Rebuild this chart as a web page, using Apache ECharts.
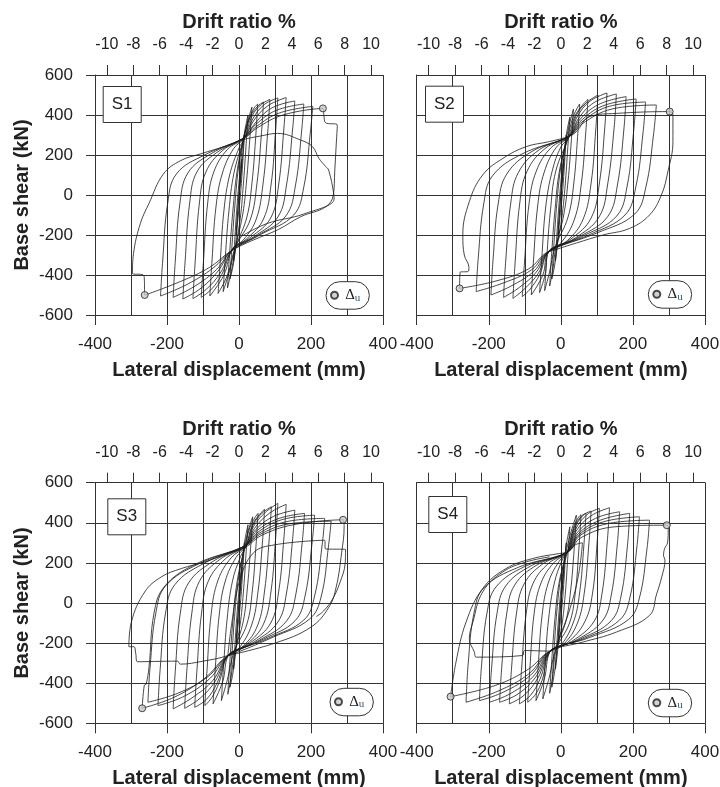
<!DOCTYPE html>
<html><head><meta charset="utf-8">
<script src="https://cdn.jsdelivr.net/npm/echarts@6/dist/echarts.min.js"></script>
<style>html,body{margin:0;padding:0;background:#fff}#c{width:720px;height:787px}</style>
</head><body><div id="c"></div>
<script>
// ---------- data ----------
const panelNames = ['S1', 'S2', 'S3', 'S4'];
const driftTicks = [-10, -8, -6, -4, -2, 0, 2, 4, 6, 8, 10];
const xAxisName = 'Lateral displacement (mm)';
const yAxisName = 'Base shear (kN)';
const topAxisName = 'Drift ratio %';
const legendName = 'Δu';

// lateral displacement (mm), base shear (kN) — hysteresis paths
const S1 = [
[0,0],[5,90],[8,180],[4,90],[0,0],[-4,-100],[-8,-200],[-4,-90],[0,0],[6,120],
[11,220],[15,300],[10,150],[4,0],[-3,-120],[-9,-240],[-15,-330],[-10,-170],[-4,-20],[3,120],[8,220],
[16,320],[25,400],[19,230],[12,50],[4,-110],[-8,-250],[-16,-350],[-25,-420],[-19,-240],[-11,-40],[-2,130],[8,240],
[20,340],[36,440],[30,280],[21,70],[11,-90],[-8,-250],[-20,-370],[-32,-465],[-26,-290],[-17,-80],[-6,110],[10,260],
[28,380],[42,435],[52,455],[46,280],[36,60],[22,-110],[-8,-255],[-28,-390],[-44,-483],[-38,-310],[-28,-80],[-14,110],[12,275],
[30,385],[50,440],[68,465],[62,300],[50,60],[32,-120],[-10,-262],[-32,-400],[-58,-492],[-52,-330],[-42,-80],[-26,100],[0,235],[15,282],
[35,390],[60,450],[86,478],[80,320],[67,60],[48,-120],[12,-225],[-18,-268],[-42,-400],[-81,-505],[-75,-330],[-64,-60],[-46,110],[-15,232],[15,285],
[38,380],[70,452],[108,485],[102,330],[89,50],[68,-120],[22,-218],[-18,-270],[-48,-398],[-76,-470],[-105,-512],[-99,-340],[-87,-40],[-70,115],[-32,228],[15,286],
[40,370],[80,446],[131,487],[125,340],[110,50],[88,-115],[32,-212],[-18,-272],[-52,-390],[-90,-470],[-128,-518],[-122,-340],[-110,-40],[-92,115],[-46,222],[15,288],
[45,360],[92,436],[155,470],[149,330],[132,50],[108,-110],[42,-208],[-20,-275],[-58,-380],[-105,-465],[-156,-520],[-150,-340],[-137,-40],[-117,115],[-62,212],[15,288],
[45,350],[102,422],[180,455],[174,320],[157,50],[130,-105],[52,-202],[-20,-276],[-62,-372],[-122,-455],[-183,-512],[-177,-330],[-164,-40],[-142,110],[-78,206],[15,287],
[48,342],[112,410],[205,443],[198,310],[180,40],[152,-100],[62,-196],[-20,-278],[-72,-365],[-142,-445],[-218,-505],[-212,-330],[-198,-40],[-174,105],[-96,200],[15,285],
[50,335],[122,400],[233,433],[236,395],[240,362],[273,350],[270,250],[266,120],[262,0],[240,-60],[172,-108],[110,-172],[40,-225],[-22,-280],[-82,-362],[-162,-432],[-262,-500],
[-263,-420],[-266,-400],[-296,-392],[-293,-292],[-274,-142],[-250,-42],[-210,105],[-162,172],[-106,206],[-40,243],[10,276],[60,295],[107,308],[171,275],[204,242],[222,183],[241,142],[249,125],[263,8],[264,-20],[180,-95],[79,-142],[5,-208]
];
const S2 = [
[0,0],[5,90],[8,180],[4,90],[0,0],[-4,-100],[-8,-200],[-4,-90],[0,0],[6,120],
[11,220],[15,300],[10,150],[4,0],[-3,-120],[-9,-240],[-15,-330],[-10,-170],[-4,-20],[3,120],[10,230],
[17,320],[25,390],[19,230],[12,50],[3,-110],[-10,-250],[-17,-350],[-25,-420],[-19,-240],[-11,-40],[-1,130],[12,250],
[22,340],[35,430],[29,270],[20,70],[8,-100],[-14,-260],[-22,-370],[-31,-455],[-25,-280],[-16,-70],[-4,120],[18,280],
[32,380],[44,430],[52,455],[46,280],[36,60],[20,-110],[-16,-262],[-32,-390],[-45,-478],[-39,-310],[-29,-80],[-14,120],[22,290],
[38,390],[58,445],[75,478],[69,310],[57,60],[38,-120],[0,-240],[-34,-283],[-44,-400],[-59,-488],[-53,-320],[-42,-60],[-24,120],[0,240],[25,295],
[42,395],[70,460],[103,500],[97,330],[84,60],[62,-120],[18,-228],[-34,-284],[-50,-400],[-82,-500],[-76,-330],[-64,-50],[-46,115],[-12,240],[25,296],
[45,390],[80,468],[128,510],[122,340],[107,60],[84,-115],[28,-220],[-35,-285],[-58,-395],[-85,-470],[-107,-508],[-101,-340],[-88,-40],[-68,120],[-28,235],[25,297],
[48,380],[92,462],[154,505],[148,340],[130,55],[106,-110],[40,-215],[-35,-286],[-62,-390],[-100,-468],[-133,-517],[-127,-340],[-114,-40],[-94,118],[-44,232],[25,298],
[50,372],[104,452],[181,492],[175,330],[157,50],[130,-108],[52,-208],[-35,-286],[-68,-385],[-115,-462],[-159,-512],[-153,-330],[-139,-40],[-118,112],[-60,226],[25,297],
[52,365],[116,445],[209,480],[202,320],[184,45],[155,-105],[64,-203],[-35,-285],[-74,-380],[-138,-455],[-194,-500],[-188,-320],[-174,-45],[-150,105],[-80,218],[25,296],
[55,360],[128,440],[235,465],[228,310],[208,40],[178,-100],[80,-198],[-35,-284],[-82,-375],[-160,-440],[-235,-483],[-229,-310],[-214,-45],[-190,95],[-108,205],[25,295],
[58,355],[142,430],[265,450],[257,300],[236,40],[205,-95],[100,-190],[-35,-283],[-90,-370],[-180,-430],[-281,-467],[-279,-385],[-258,-383],[-255,-362],[-268,-300],[-272,-200],[-254,-33],[-217,100],[-161,183],[-96,242],[-32,267],[25,295],
[43,317],[80,392],[154,408],[302,417],[311,400],[311,267],[297,117],[279,0],[246,-100],[191,-167],[117,-200],[43,-240],[-35,-285]
];
const S3 = [
[0,0],[5,90],[8,180],[4,90],[0,0],[-4,-100],[-8,-200],[-4,-90],[0,0],[6,120],
[11,220],[15,300],[10,150],[4,0],[-3,-120],[-9,-240],[-15,-330],[-10,-170],[-4,-20],[3,120],[10,230],
[17,320],[25,390],[19,230],[12,50],[3,-110],[-10,-240],[-17,-350],[-25,-420],[-19,-240],[-11,-40],[-1,130],[12,250],
[24,350],[38,430],[32,270],[23,70],[12,-90],[-12,-245],[-22,-370],[-31,-455],[-25,-280],[-16,-70],[-4,120],[16,275],
[30,375],[44,425],[53,447],[47,280],[37,60],[22,-105],[-14,-245],[-32,-380],[-49,-487],[-43,-320],[-33,-80],[-18,110],[4,230],[20,285],
[36,385],[56,440],[71,467],[65,300],[53,60],[35,-110],[-2,-230],[-30,-262],[-45,-390],[-72,-503],[-66,-330],[-55,-60],[-38,110],[-8,228],[20,287],
[38,385],[64,448],[90,480],[84,320],[71,60],[52,-110],[12,-215],[-31,-262],[-55,-395],[-75,-470],[-95,-512],[-89,-340],[-77,-50],[-58,115],[-22,225],[20,288],
[40,380],[72,450],[108,497],[102,330],[89,60],[68,-105],[22,-205],[-31,-263],[-60,-395],[-90,-480],[-123,-520],[-117,-340],[-104,-50],[-85,110],[-38,220],[20,289],
[43,372],[84,447],[131,492],[125,330],[110,55],[88,-100],[32,-198],[-31,-264],[-66,-390],[-108,-475],[-151,-525],[-145,-340],[-131,-50],[-110,108],[-55,215],[20,290],
[46,365],[96,432],[155,463],[149,320],[132,50],[108,-95],[44,-192],[-31,-265],[-72,-385],[-128,-470],[-183,-528],[-177,-340],[-163,-50],[-140,100],[-72,208],[20,290],
[48,358],[108,420],[182,447],[176,310],[158,45],[132,-90],[56,-186],[-31,-265],[-80,-375],[-152,-465],[-225,-512],[-219,-330],[-204,-50],[-178,92],[-95,200],[20,289],
[50,350],[118,415],[210,438],[203,300],[184,40],[156,-88],[68,-180],[-31,-264],[-88,-370],[-170,-450],[-253,-495],[-247,-320],[-231,-50],[-204,85],[-112,195],[20,288],
[53,345],[130,405],[238,422],[231,290],[210,35],[180,-85],[82,-175],[-31,-263],[-95,-375],[-180,-470],[-269,-525],[-263,-410],[-258,-405],[-250,-320],[-236,-50],[-208,80],[-125,190],[20,287],
[56,340],[140,395],[256,408],[249,290],[228,30],[196,-80],[95,-170],[-31,-262],[-100,-290],[-163,-305],[-171,-290],[-282,-293],[-287,-250],[-292,-218],[-306,-218],[-299,-95],[-262,55],[-216,130],[-160,172],[-95,205],[-31,247],[20,280],
[60,335],[150,390],[289,415],[292,380],[285,250],[270,80],[250,-20],[200,-120],[100,-200],[-31,-262],[-20,-100],[0,100],[40,250],[99,290],[238,313],[240,270],[296,267],[295,200],[280,100],[260,20],[235,-40],[215,-67]
];
const S4 = [
[0,0],[5,90],[8,180],[4,90],[0,0],[-4,-100],[-8,-200],[-4,-90],[0,0],[6,120],
[11,220],[15,300],[10,150],[4,0],[-3,-120],[-9,-240],[-15,-330],[-10,-170],[-4,-20],[3,120],[10,220],
[17,310],[25,380],[19,220],[12,40],[3,-110],[-10,-230],[-17,-340],[-25,-420],[-19,-240],[-11,-40],[-1,120],[12,235],
[26,340],[43,438],[37,270],[27,60],[14,-90],[-14,-235],[-22,-360],[-31,-450],[-25,-280],[-16,-70],[-4,110],[18,252],
[34,370],[48,425],[56,440],[50,270],[40,50],[24,-100],[-14,-232],[-32,-370],[-50,-478],[-44,-310],[-34,-80],[-18,100],[4,215],[19,255],
[36,372],[56,432],[70,447],[64,290],[52,50],[34,-100],[-4,-220],[-30,-240],[-46,-380],[-69,-487],[-63,-320],[-52,-60],[-35,100],[-6,205],[19,256],
[38,370],[62,438],[84,458],[78,300],[65,50],[46,-100],[8,-205],[-30,-241],[-52,-385],[-70,-455],[-92,-495],[-86,-330],[-74,-50],[-55,100],[-20,200],[19,257],
[40,365],[72,440],[107,472],[101,310],[88,50],[66,-95],[18,-198],[-30,-242],[-58,-380],[-85,-462],[-115,-503],[-109,-330],[-96,-50],[-77,98],[-34,198],[19,258],
[42,358],[84,435],[135,475],[129,310],[114,45],[92,-92],[30,-192],[-30,-242],[-64,-375],[-102,-460],[-143,-503],[-137,-330],[-123,-50],[-102,95],[-50,195],[19,258],
[45,350],[96,422],[163,455],[157,300],[140,40],[115,-90],[42,-186],[-30,-242],[-70,-370],[-120,-455],[-170,-495],[-164,-320],[-150,-50],[-128,90],[-66,190],[19,257],
[48,345],[108,412],[191,447],[185,290],[167,35],[140,-88],[54,-180],[-30,-241],[-76,-365],[-138,-450],[-198,-495],[-192,-320],[-177,-50],[-153,85],[-82,186],[19,256],
[50,340],[118,405],[218,430],[211,280],[192,30],[163,-85],[66,-176],[-30,-240],[-84,-360],[-160,-445],[-226,-487],[-220,-310],[-205,-50],[-180,80],[-100,182],[19,255],
[52,335],[128,395],[246,413],[239,270],[218,25],[188,-82],[80,-172],[-30,-240],[-90,-355],[-175,-440],[-263,-495],[-257,-300],[-241,-50],[-214,75],[-118,178],[19,254],
[55,325],[150,380],[294,388],[298,370],[296,300],[288,272],[285,235],[289,215],[280,130],[265,40],[246,-62],[154,-145],[61,-195],[-30,-240],[-90,-330],[-180,-410],[-306,-467],
[-291,-295],[-263,-95],[-217,72],[-152,172],[-78,222],[-4,247],[19,255],[40,290],[60,300],[50,150],[30,0],[0,-150],[-30,-240],[-101,-237],[-106,-262],[-235,-270],[-240,-245],[-254,-178],[-244,-95],[-217,55],[-161,155],[-96,205],[-31,230]
];
// ultimate displacement points Δu
const S1_du = [[233,433],[-262,-500]];
const S2_du = [[302,417],[-281,-467]];
const S3_du = [[289,415],[-269,-525]];
const S4_du = [[294,388],[-306,-467]];

const loops = [S1, S2, S3, S4];
const duPoints = [S1_du, S2_du, S3_du, S4_du];

// ---------- layout / style ----------
const FONT = '"Liberation Sans", Arial, sans-serif';
const TXT = '#222';
const GRIDC = '#333';
const grids = [
  {left: 95, top: 75, width: 288, height: 240},
  {left: 416.7, top: 75, width: 288.3, height: 240},
  {left: 95, top: 482.7, width: 288, height: 240.6},
  {left: 416.7, top: 482.7, width: 288.3, height: 240.6}
];
const titleBoxes = [
  {left: 102.7, top: 86}, {left: 425, top: 85.7}, {left: 107.3, top: 498.3}, {left: 428.3, top: 496}
];
const legendBoxes = [
  {left: 326, top: 281.7}, {left: 648.3, top: 280.7}, {left: 330, top: 688.3}, {left: 648.3, top: 689.3}
];

const xAxes = [], yAxes = [], series = [], titles = [], legends = [];
grids.forEach((g, i) => {
  const isLeft = (i % 2 === 0);
  xAxes.push({
    gridIndex: i, type: 'value', position: 'bottom', min: -400, max: 400, interval: 200,
    axisLine: {show: true, onZero: false, lineStyle: {color: GRIDC, width: 1}},
    axisTick: {show: true, inside: false, length: 10, lineStyle: {color: GRIDC, width: 1}},
    axisLabel: {show: true, margin: 21, fontSize: 17, color: TXT, fontFamily: FONT, showMinLabel: true, showMaxLabel: true, hideOverlap: false},
    splitLine: {show: true, lineStyle: {color: GRIDC, width: 1}},
    minorTick: {show: false, splitNumber: 2},
    minorSplitLine: {show: true, lineStyle: {color: GRIDC, width: 1}},
    name: xAxisName, nameLocation: 'middle', nameGap: 45, nameMoveOverlap: false,
    nameTextStyle: {fontSize: 20, fontWeight: 'bold', color: TXT, fontFamily: FONT}
  });
  xAxes.push({
    gridIndex: i, type: 'value', position: 'top', min: -10.9, max: 10.9,
    axisLine: {show: true, onZero: false, lineStyle: {color: GRIDC, width: 1}},
    axisTick: {show: true, inside: false, length: 10, customValues: driftTicks, lineStyle: {color: GRIDC, width: 1}},
    axisLabel: {show: true, customValues: driftTicks, margin: 22, fontSize: 16, color: TXT, fontFamily: FONT},
    splitLine: {show: false},
    name: topAxisName, nameLocation: 'middle', nameGap: 43, nameMoveOverlap: false,
    nameTextStyle: {fontSize: 20, fontWeight: 'bold', color: TXT, fontFamily: FONT}
  });
  yAxes.push({
    gridIndex: i, type: 'value', min: -600, max: 600, interval: 200,
    axisLine: {show: true, onZero: false, lineStyle: {color: GRIDC, width: 1}},
    axisTick: {show: isLeft, inside: false, length: 9, lineStyle: {color: GRIDC, width: 1}},
    axisLabel: {show: isLeft, margin: 22, fontSize: 17, color: TXT, fontFamily: FONT, showMinLabel: true, showMaxLabel: true},
    splitLine: {show: true, lineStyle: {color: GRIDC, width: 1}},
    name: isLeft ? yAxisName : '', nameLocation: 'middle', nameGap: 63, nameRotate: 90, nameMoveOverlap: false,
    nameTextStyle: {fontSize: 20, fontWeight: 'bold', color: TXT, fontFamily: FONT}
  });
  series.push({
    type: 'line', xAxisIndex: 2 * i, yAxisIndex: i, data: loops[i],
    smooth: 0.4, symbol: 'none', silent: true, z: 3,
    lineStyle: {color: '#1a1a1a', width: 0.8}
  });
  series.push({
    type: 'scatter', name: legendName, xAxisIndex: 2 * i, yAxisIndex: i, data: duPoints[i],
    symbol: 'circle', symbolSize: 7, silent: true, z: 5,
    itemStyle: {color: '#c8c8c8', borderColor: '#222', borderWidth: 1}
  });
  titles.push({
    text: panelNames[i], left: titleBoxes[i].left, top: titleBoxes[i].top,
    padding: [10, 9, 10, 9], borderWidth: 1, borderColor: '#333', backgroundColor: '#fff',
    textStyle: {fontSize: 17, fontWeight: 'normal', color: TXT, fontFamily: FONT}
  });
  legends.push({
    left: legendBoxes[i].left, top: legendBoxes[i].top, data: [legendName],
    selectedMode: false, padding: [6, 9, 6, 4], itemWidth: 7, itemHeight: 7,
    borderWidth: 1, borderColor: '#333', borderRadius: 14, backgroundColor: '#fff',
    formatter: () => '{s| }{d|Δ}{u|u}',
    textStyle: {
      color: TXT,
      rich: {
        s: {fontSize: 8, lineHeight: 16},
        d: {fontSize: 15, fontFamily: '"Liberation Serif", serif', color: TXT, lineHeight: 16},
        u: {fontSize: 11, fontFamily: '"Liberation Serif", serif', color: '#2b5b84', lineHeight: 16, verticalAlign: 'bottom'}
      }
    }
  });
});

const chart = echarts.init(document.getElementById('c'), null, {renderer: 'canvas'});
chart.setOption({
  animation: false,
  backgroundColor: '#fff',
  textStyle: {fontFamily: FONT},
  grid: grids.map(g => Object.assign({outerBoundsMode: 'none', containLabel: false}, g)),
  xAxis: xAxes,
  yAxis: yAxes,
  title: titles,
  legend: legends,
  series: series
});
</script>
</body></html>
